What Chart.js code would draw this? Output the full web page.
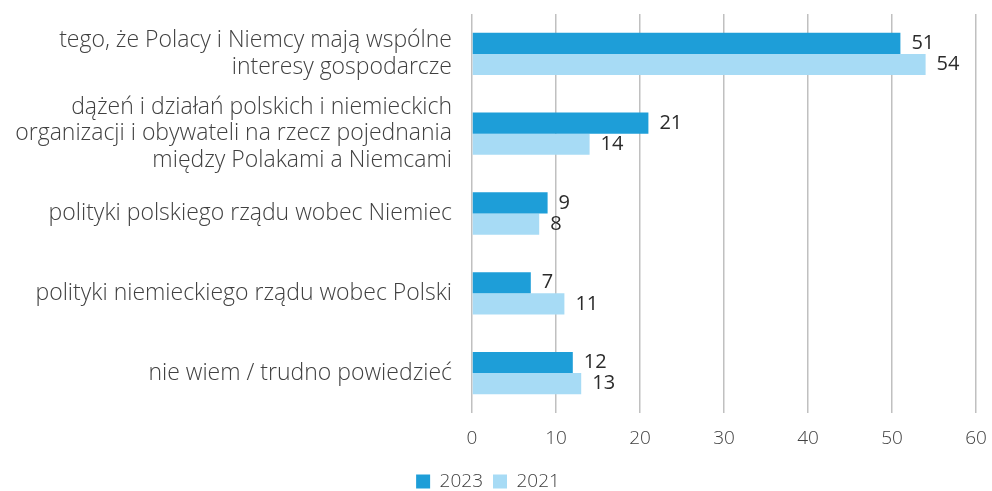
<!DOCTYPE html>
<html>
<head>
<meta charset="utf-8">
<script src="https://cdn.jsdelivr.net/npm/chart.js@4/dist/chart.umd.min.js"></script>
<style>
html,body{margin:0;padding:0;background:#fff;}
#wrap{width:992px;height:491px;position:relative;}
</style>
</head>
<body>
<div id="wrap"><canvas id="c" width="992" height="491"></canvas></div>
<script>
const categories = [
  ["tego, że Polacy i Niemcy mają wspólne", "interesy gospodarcze"],
  ["dążeń i działań polskich i niemieckich", "organizacji i obywateli na rzecz pojednania", "między Polakami a Niemcami"],
  ["polityki polskiego rządu wobec Niemiec"],
  ["polityki niemieckiego rządu wobec Polski"],
  ["nie wiem / trudno powiedzieć"]
];
const values2023 = [51, 21, 9, 7, 12];
const values2021 = [54, 14, 8, 11, 13];
const xTicks = [0, 10, 20, 30, 40, 50, 60];

const FONT = "'Open Sans', sans-serif";

const valueLabels = {
  id: 'valueLabels',
  afterDatasetsDraw(chart) {
    const ctx = chart.ctx;
    ctx.save();
    ctx.font = "400 20px " + FONT;
    ctx.fillStyle = '#2b2b2b';
    ctx.textAlign = 'left';
    ctx.textBaseline = 'middle';
    chart.data.datasets.forEach((ds, i) => {
      const meta = chart.getDatasetMeta(i);
      meta.data.forEach((bar, j) => {
        ctx.fillText(String(ds.data[j]), bar.x + 11, bar.y);
      });
    });
    ctx.restore();
  }
};

new Chart(document.getElementById('c'), {
  type: 'bar',
  data: {
    labels: categories,
    datasets: [
      { label: '2023', data: values2023, backgroundColor: '#1e9ed8', borderWidth: 0 },
      { label: '2021', data: values2021, backgroundColor: '#a7dbf5', borderWidth: 0 }
    ]
  },
  options: {
    indexAxis: 'y',
    responsive: false,
    animation: false,
    devicePixelRatio: 1,
    layout: { padding: { top: 14, right: 16, left: 0, bottom: -10 } },
    datasets: { bar: { categoryPercentage: 0.53, barPercentage: 1 } },
    scales: {
      x: {
        min: 0, max: 60,
        afterBuildTicks(axis) { axis.ticks = xTicks.map(v => ({ value: v })); },
        afterFit(axis) { axis.height = 49; axis.paddingLeft = 0; axis.paddingRight = 0; },
        grid: { color: '#c0c0c0', lineWidth: 1.5, drawTicks: false },
        border: { display: false },
        ticks: { padding: 14, color: '#404040', font: { family: FONT, size: 19, weight: 300 } }
      },
      y: {
        afterFit(axis) { axis.width = 472; axis.paddingTop = 0; axis.paddingBottom = 0; },
        grid: { display: false },
        border: { display: false },
        ticks: { autoSkip: false, padding: 12, color: '#404040', font: { family: FONT, size: 23, weight: 300, lineHeight: 1.15 } }
      }
    },
    plugins: {
      legend: {
        position: 'bottom',
        labels: {
          boxWidth: 14, boxHeight: 14, padding: 10,
          color: '#404040',
          font: { family: FONT, size: 19, weight: 300 }
        }
      },
      tooltip: { enabled: false }
    }
  },
  plugins: [valueLabels]
});
</script>
</body>
</html>
